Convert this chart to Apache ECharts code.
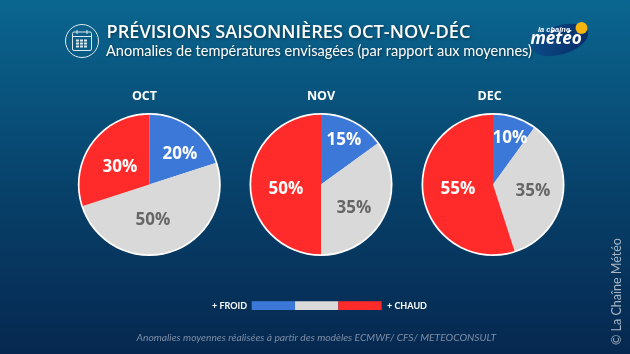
<!DOCTYPE html>
<html>
<head>
<meta charset="utf-8">
<style>html,body{margin:0;padding:0;background:#062a52}#c{width:630px;height:354px}</style>
<script src="https://cdn.jsdelivr.net/npm/echarts@6/dist/echarts.min.js"></script>
</head>
<body>
<div id="c"></div>
<script>
const months = ['OCT', 'NOV', 'DEC'];
const categories = ['+ FROID', 'Normal', '+ CHAUD'];
const octValues = [20, 50, 30];
const novValues = [15, 35, 50];
const decValues = [10, 35, 55];
const colors = ['#3c78d8', '#d9d9d9', '#ff2a2a'];
const labelColors = ['#ffffff', '#666666', '#ffffff'];
const titleText = 'PRÉVISIONS SAISONNIÈRES OCT-NOV-DÉC';
const subtitleText = 'Anomalies de températures envisagées (par rapport aux moyennes)';
const sourceText = 'Anomalies moyennes réalisées à partir des modèles ECMWF/ CFS/ METEOCONSULT';
const creditText = '© La Chaîne Météo';

const allValues = [octValues, novValues, decValues];
const centersX = [149.3, 321, 493];
const monthLabelX = [144.5, 321, 489.5];
const centerY = 184.5;
const radius = 69.8;
const ringRadius = 71.5;
const labelSpots = [
  [[180, 154], [153, 220], [120, 167]],
  [[344, 140], [354, 208], [286, 189]],
  [[510, 138], [533, 191], [458, 189]]
];
const shadow = {textShadowColor: 'rgba(0,0,0,0.45)', textShadowBlur: 3, textShadowOffsetX: 1, textShadowOffsetY: 1};

const series = months.map((m, i) => ({
  type: 'pie',
  name: m,
  z: 5,
  center: [centersX[i], centerY],
  radius: [0, radius],
  startAngle: 90,
  clockwise: true,
  animation: false,
  silent: true,
  data: allValues[i].map((v, k) => ({
    name: categories[k],
    value: v,
    itemStyle: {color: colors[k]},
    label: {color: labelColors[k]}
  })),
  label: {
    show: true,
    position: 'inside',
    formatter: '{c}%',
    fontFamily: '"Open Sans"',
    fontWeight: 'bold',
    fontSize: 17
  },
  labelLine: {show: false},
  labelLayout: p => ({
    x: labelSpots[p.seriesIndex][p.dataIndex][0],
    y: labelSpots[p.seriesIndex][p.dataIndex][1],
    align: 'center',
    verticalAlign: 'middle'
  })
}));

const graphic = [];
months.forEach((m, i) => {
  graphic.push({type: 'circle', silent: true,
    shape: {cx: centersX[i], cy: centerY, r: ringRadius},
    style: {fill: '#ffffff'}});
  graphic.push({type: 'text', x: monthLabelX[i], y: 96,
    style: {text: m, fill: '#fff', font: 'bold 12.5px "Open Sans"', align: 'center', verticalAlign: 'middle'}});
});

// Title block
graphic.push({type: 'text', x: 106.5, y: 33,
  style: Object.assign({text: titleText, fill: '#fff', font: '600 18.2px "Open Sans"', verticalAlign: 'middle'}, shadow)});
graphic.push({type: 'text', x: 106, y: 51.5,
  style: Object.assign({text: subtitleText, fill: '#fff', font: '14.55px Lato', verticalAlign: 'middle'}, shadow)});

// Calendar icon
const ic = {fill: 'none', stroke: '#dfe8ee', lineWidth: 1};
graphic.push({type: 'circle', shape: {cx: 82, cy: 41, r: 16.5}, style: ic});
graphic.push({type: 'rect', shape: {x: 72.5, y: 32, width: 19, height: 18.5, r: 1.5}, style: ic});
graphic.push({type: 'line', shape: {x1: 72.5, y1: 36.5, x2: 91.5, y2: 36.5}, style: ic});
graphic.push({type: 'line', shape: {x1: 77, y1: 30, x2: 77, y2: 34}, style: ic});
graphic.push({type: 'line', shape: {x1: 87, y1: 30, x2: 87, y2: 34}, style: ic});
[76, 80, 84].forEach(x => [39.5, 42.5, 45.5].forEach(y => {
  graphic.push({type: 'rect', shape: {x: x, y: y, width: 3, height: 2}, style: {fill: '#dfe8ee'}});
}));

// Logo
graphic.push({type: 'ellipse', rotation: 0.3, x: 560, y: 40, shape: {cx: 0, cy: 0, rx: 29, ry: 14.5},
  style: {fill: new echarts.graphic.LinearGradient(0, 0, 1, 1, [{offset: 0, color: '#0b4f8a'}, {offset: 1, color: '#082a66'}])}});
graphic.push({type: 'circle', shape: {cx: 581.5, cy: 28, r: 6}, style: {fill: '#f5b50f'}});
graphic.push({type: 'text', x: 554, y: 30,
  style: {text: 'la chaîne', fill: '#fff', font: 'italic bold 7.5px "Liberation Sans"', align: 'center', verticalAlign: 'middle'}});
graphic.push({type: 'text', x: 556, y: 39.5,
  style: {text: 'météo', fill: '#fff', font: 'italic bold 17px "Open Sans"', align: 'center', verticalAlign: 'middle'}});

// Colour key
categories.forEach((c, k) => {
  graphic.push({type: 'rect', shape: {x: 251.7 + k * 43.33, y: 301.3, width: 43.33, height: 8.7},
    style: {fill: colors[k]}});
});
graphic.push({type: 'text', x: 247, y: 305.8,
  style: {text: categories[0], fill: '#fff', font: 'bold 9px Lato', align: 'right', verticalAlign: 'middle'}});
graphic.push({type: 'text', x: 387, y: 305.8,
  style: {text: categories[2], fill: '#fff', font: 'bold 9px Lato', align: 'left', verticalAlign: 'middle'}});

// Footer
graphic.push({type: 'text', x: 136.5, y: 337.5,
  style: {text: sourceText, fill: '#7d8ea6', font: 'italic 10.25px Lato', verticalAlign: 'middle'}});
graphic.push({type: 'text', x: 617, y: 345, rotation: Math.PI / 2,
  style: {text: creditText, fill: '#a9b6c4', font: '12.5px Lato', align: 'left', verticalAlign: 'middle'}});

const chart = echarts.init(document.getElementById('c'), null, {renderer: 'canvas'});
chart.setOption({
  animation: false,
  backgroundColor: new echarts.graphic.LinearGradient(0, 0, 0, 1, [
    {offset: 0, color: '#0a6690'},
    {offset: 0.55, color: '#074069'},
    {offset: 1, color: '#062850'}
  ]),
  series: series,
  graphic: {z: 1, elements: graphic}
});
</script>
</body>
</html>
